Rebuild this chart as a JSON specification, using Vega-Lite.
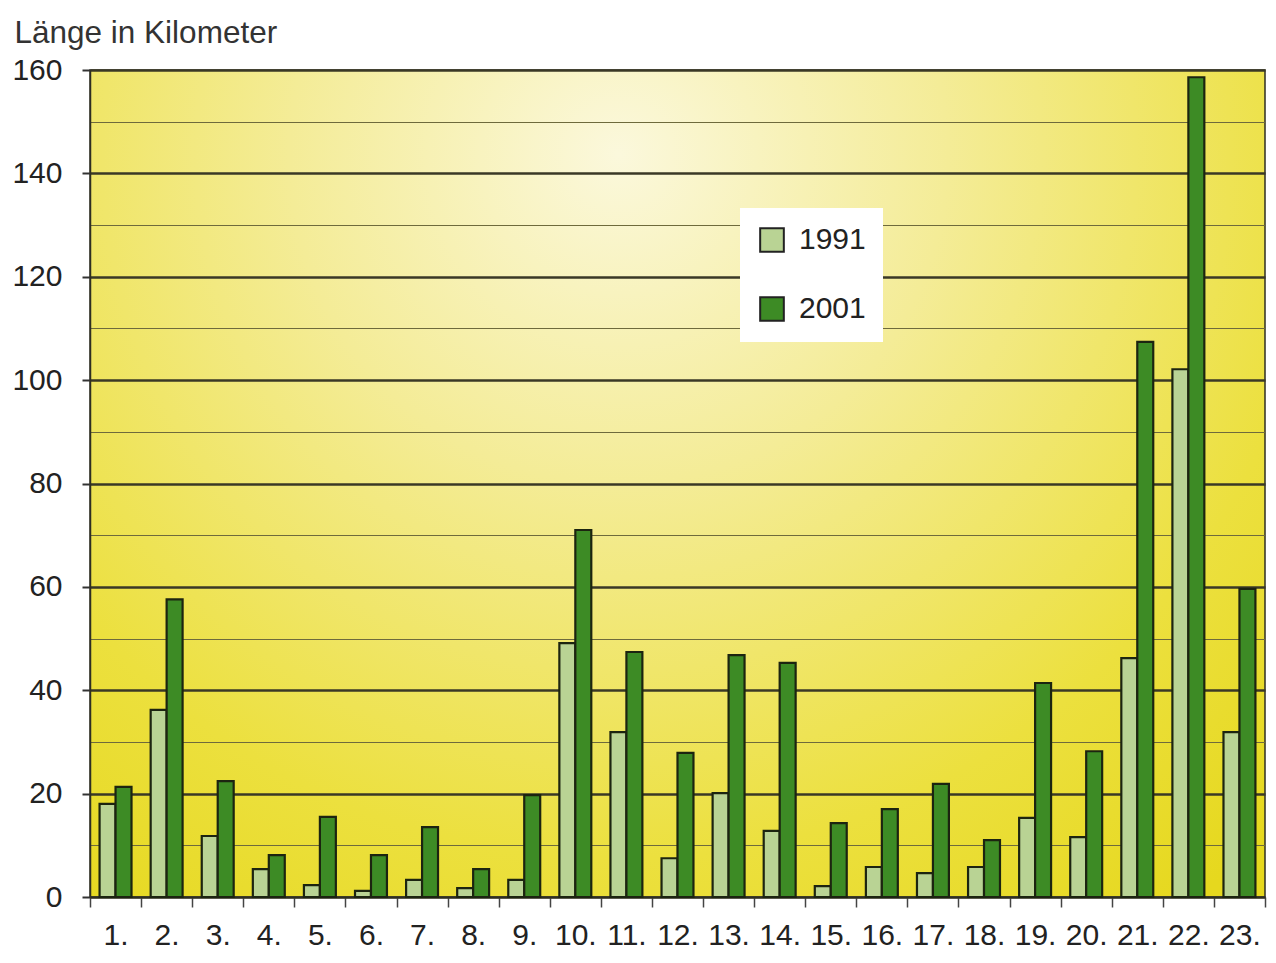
{
  "$schema": "https://vega.github.io/schema/vega-lite/v6.json",
  "width": 1175,
  "height": 827,
  "autosize": {"type": "none"},
  "padding": {"left": 90, "top": 70, "right": 11, "bottom": 66},
  "background": "white",
  "config": {
    "font": "Liberation Sans",
    "view": {
      "fill": {
        "gradient": "radial",
        "x1": 0.45, "y1": 0.22, "r1": 0,
        "x2": 0.45, "y2": 0.22, "r2": 0.8,
        "stops": [
          {"offset": 0, "color": "#fbf8dc"},
          {"offset": 0.35, "color": "#f4ec97"},
          {"offset": 0.75, "color": "#ece03e"},
          {"offset": 1, "color": "#e6d81e"}
        ]
      },
      "stroke": "#2e2e22",
      "strokeWidth": 1.5
    }
  },
  "data": {
    "values": [
      {"region": "1.", "year": "1991", "km": 18.0},
      {"region": "1.", "year": "2001", "km": 21.3},
      {"region": "2.", "year": "1991", "km": 36.2},
      {"region": "2.", "year": "2001", "km": 57.6},
      {"region": "3.", "year": "1991", "km": 11.8},
      {"region": "3.", "year": "2001", "km": 22.4},
      {"region": "4.", "year": "1991", "km": 5.4},
      {"region": "4.", "year": "2001", "km": 8.1},
      {"region": "5.", "year": "1991", "km": 2.3},
      {"region": "5.", "year": "2001", "km": 15.5},
      {"region": "6.", "year": "1991", "km": 1.2},
      {"region": "6.", "year": "2001", "km": 8.1},
      {"region": "7.", "year": "1991", "km": 3.3},
      {"region": "7.", "year": "2001", "km": 13.5},
      {"region": "8.", "year": "1991", "km": 1.7},
      {"region": "8.", "year": "2001", "km": 5.4},
      {"region": "9.", "year": "1991", "km": 3.3},
      {"region": "9.", "year": "2001", "km": 19.7},
      {"region": "10.", "year": "1991", "km": 49.1},
      {"region": "10.", "year": "2001", "km": 71.0},
      {"region": "11.", "year": "1991", "km": 31.9},
      {"region": "11.", "year": "2001", "km": 47.4},
      {"region": "12.", "year": "1991", "km": 7.5},
      {"region": "12.", "year": "2001", "km": 27.9},
      {"region": "13.", "year": "1991", "km": 20.1},
      {"region": "13.", "year": "2001", "km": 46.8},
      {"region": "14.", "year": "1991", "km": 12.8},
      {"region": "14.", "year": "2001", "km": 45.3},
      {"region": "15.", "year": "1991", "km": 2.1},
      {"region": "15.", "year": "2001", "km": 14.3},
      {"region": "16.", "year": "1991", "km": 5.8},
      {"region": "16.", "year": "2001", "km": 17.0},
      {"region": "17.", "year": "1991", "km": 4.6},
      {"region": "17.", "year": "2001", "km": 21.9},
      {"region": "18.", "year": "1991", "km": 5.8},
      {"region": "18.", "year": "2001", "km": 11.0},
      {"region": "19.", "year": "1991", "km": 15.3},
      {"region": "19.", "year": "2001", "km": 41.4},
      {"region": "20.", "year": "1991", "km": 11.6},
      {"region": "20.", "year": "2001", "km": 28.2},
      {"region": "21.", "year": "1991", "km": 46.2},
      {"region": "21.", "year": "2001", "km": 107.4},
      {"region": "22.", "year": "1991", "km": 102.1},
      {"region": "22.", "year": "2001", "km": 158.6},
      {"region": "23.", "year": "1991", "km": 31.9},
      {"region": "23.", "year": "2001", "km": 59.6}
    ]
  },
  "mark": {"type": "bar", "stroke": "#1c2410", "strokeWidth": 2.2},
  "encoding": {
    "x": {
      "field": "region",
      "type": "nominal",
      "sort": null,
      "scale": {"paddingInner": 0, "paddingOuter": 0},
      "axis": {
        "title": null,
        "labelAngle": 0,
        "tickBand": "extent",
        "tickSize": 10,
        "tickColor": "#444",
        "tickWidth": 1.5,
        "domainColor": "#2e2e22",
        "domainWidth": 1.5,
        "labelFontSize": 30,
        "labelColor": "#222",
        "labelPadding": 13,
        "labelBaseline": "top",
        "grid": false
      }
    },
    "xOffset": {
      "field": "year",
      "type": "nominal",
      "scale": {"paddingOuter": 0.6, "paddingInner": 0}
    },
    "y": {
      "field": "km",
      "type": "quantitative",
      "scale": {"domain": [0, 160], "nice": false},
      "axis": {
        "values": [0, 10, 20, 30, 40, 50, 60, 70, 80, 90, 100, 110, 120, 130, 140, 150, 160],
        "labelExpr": "datum.value % 20 === 0 ? datum.label : ''",
        "title": "Länge in Kilometer",
        "titleAngle": 0,
        "titleAlign": "left",
        "titleBaseline": "alphabetic",
        "titleX": -76,
        "titleY": -28,
        "titleFontSize": 31.5,
        "titleFontWeight": "normal",
        "titleColor": "#333",
        "labelFontSize": 30,
        "labelColor": "#222",
        "labelPadding": 20,
        "tickSize": 8,
        "tickColor": "#333",
        "tickWidth": 2,
        "tickOpacity": {"condition": {"test": "datum.value % 20 === 0", "value": 1}, "value": 0},
        "domainColor": "#2e2e22",
        "domainWidth": 1.5,
        "grid": true,
        "gridColor": {"condition": {"test": "datum.value % 20 === 0", "value": "#3a3826"}, "value": "#6e6a3c"},
        "gridWidth": {"condition": {"test": "datum.value % 20 === 0", "value": 2.4}, "value": 1.1},
        "gridOpacity": 1
      }
    },
    "color": {
      "field": "year",
      "type": "nominal",
      "scale": {"domain": ["1991", "2001"], "range": ["#b9d394", "#3d8b25"]},
      "legend": {
        "title": null,
        "orient": "none",
        "legendX": 650,
        "legendY": 138,
        "fillColor": "white",
        "padding": 17,
        "symbolType": "square",
        "symbolSize": 560,
        "symbolStrokeColor": "#222",
        "symbolStrokeWidth": 2,
        "labelFontSize": 30,
        "labelColor": "#222",
        "labelOffset": 12,
        "rowPadding": 37
      }
    }
  }
}
